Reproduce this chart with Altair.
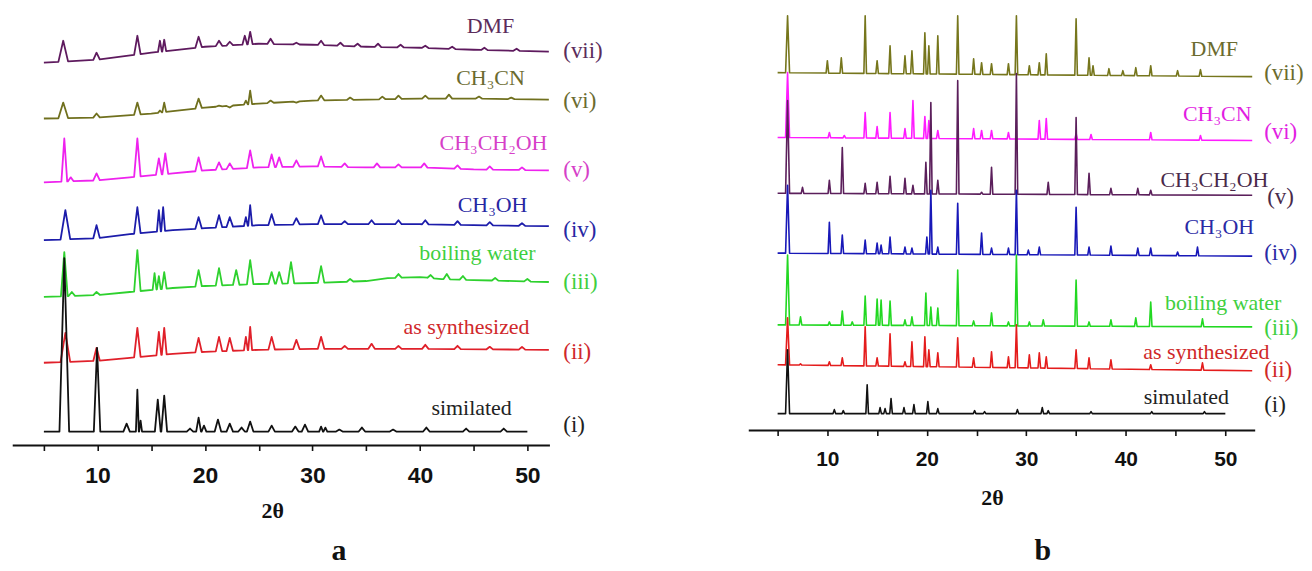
import altair as alt
import numpy as np
import pandas as pd

# ---------------- Panel a data (intensity in a.u., stacked) ----------------
A_NAMES = ["DMF", "CH3CN", "CH3CH2OH", "CH3OH", "boiling water", "as synthesized", "simulated"]
A_COLORS = ["#5e1a5e", "#70701e", "#ee22ee", "#1c1caa", "#2ed12e", "#e0202a", "#111111"]

A_BASE_T = {
    "DMF": [5, 10, 15, 20, 25, 30, 35, 40, 45, 52],
    "CH3CN": [5, 10, 15, 20, 25, 30, 35, 40, 45, 52],
    "CH3CH2OH": [5, 10, 13, 17, 20, 25, 30, 35, 40, 45, 52],
    "CH3OH": [5, 10, 13, 17, 20, 25, 30, 35, 40, 45, 52],
    "boiling water": [5, 10, 13, 17, 20, 25, 30, 35, 37, 40, 42, 45, 52],
    "as synthesized": [5, 10, 13, 17, 20, 25, 30, 40, 52],
    "simulated": [5, 50],
}
A_BASE_Y = {
    "DMF": [384, 387, 394, 400, 403, 402, 400, 399, 397, 395],
    "CH3CN": [328, 329, 333, 339, 343, 346, 347, 348, 348, 347],
    "CH3CH2OH": [264, 266, 269, 273, 276, 279, 280, 279, 279, 277, 276],
    "CH3OH": [206, 208, 212, 216, 218, 221, 222, 222, 222, 221, 220],
    "boiling water": [149, 151, 154, 158, 160, 162, 163, 165, 168, 169, 167, 166, 164],
    "as synthesized": [83, 85, 88, 92, 94, 96, 97, 97, 96],
    "simulated": [14, 14],
}
A_PEAK_T = {
    "DMF": [6.8, 9.9, 13.7, 15.8, 16.2, 19.4, 21.3, 22.3, 23.7, 24.2, 26.1, 28.5, 30.8, 32.6, 34.2, 36.1, 38.2, 40.5, 43.0, 46.0, 49.0],
    "CH3CN": [6.8, 9.9, 13.7, 15.8, 16.2, 19.4, 21.3, 22.3, 23.8, 24.2, 26.1, 28.5, 30.8, 33.5, 36.5, 38.0, 40.5, 42.7, 45.5, 48.5],
    "CH3CH2OH": [6.9, 7.5, 9.9, 13.7, 15.7, 16.3, 19.4, 21.3, 22.3, 24.2, 26.2, 26.9, 28.5, 30.8, 33.0, 36.0, 38.0, 40.4, 43.5, 46.5, 49.5],
    "CH3OH": [7.0, 9.9, 13.7, 15.7, 16.1, 19.4, 21.3, 22.3, 23.8, 24.2, 26.2, 28.5, 30.8, 33.0, 35.5, 38.0, 40.5, 43.5, 46.5, 49.5],
    "boiling water": [6.9, 7.6, 9.9, 13.7, 15.3, 15.7, 16.2, 19.4, 21.3, 22.9, 24.2, 26.2, 26.9, 28.0, 30.8, 33.5, 38.0, 41.0, 42.5, 44.0, 47.0, 50.0],
    "as synthesized": [7.0, 9.9, 13.7, 15.7, 16.2, 19.4, 21.3, 22.3, 23.8, 24.2, 26.2, 28.5, 30.8, 33.0, 35.5, 38.0, 40.5, 43.5, 46.5, 49.5],
    "simulated": [6.9, 9.95, 12.7, 13.7, 14.0, 15.6, 16.2, 18.6, 19.4, 19.9, 21.2, 22.3, 23.4, 24.2, 26.2, 28.4, 29.3, 30.8, 31.2, 32.5, 34.6, 37.5, 40.6, 44.3, 47.8],
}
A_PEAK_Y = {
    "DMF": [406, 394, 411, 406, 407, 410, 406, 405, 411, 415, 408, 404, 406, 404, 403, 403, 402, 401, 400, 399, 398],
    "CH3CN": [344, 333, 344, 336, 344, 348, 341, 339, 346, 356, 346, 344, 351, 349, 350, 351, 351, 352, 350, 349],
    "CH3CH2OH": [308, 269, 273, 308, 288, 293, 289, 284, 283, 296, 292, 289, 286, 290, 283, 283, 282, 283, 281, 280, 279],
    "CH3OH": [236, 221, 239, 236, 239, 229, 231, 229, 229, 241, 232, 228, 231, 225, 226, 226, 226, 225, 224, 223],
    "boiling water": [194, 154, 154, 196, 173, 170, 174, 176, 178, 176, 186, 174, 174, 184, 180, 167, 172, 171, 172, 170, 168, 167],
    "as synthesized": [113, 98, 118, 114, 118, 108, 109, 108, 109, 119, 109, 106, 109, 100, 102, 100, 101, 100, 99, 99],
    "simulated": [188, 98, 22, 56, 25, 46, 50, 17, 28, 20, 26, 22, 18, 24, 20, 19, 21, 19, 18, 16, 18, 16, 18, 17, 17],
}
A_END = {"DMF": 52.0, "CH3CN": 52.0, "CH3CH2OH": 52.0, "CH3OH": 52.0,
         "boiling water": 52.0, "as synthesized": 52.0, "simulated": 50.0}

# ---------------- Panel b data ----------------
B_NAMES = ["DMF", "CH3CN", "CH3CH2OH", "CH3OH", "boiling water", "as synthesized", "simulated"]
B_COLORS = ["#76761c", "#ff1cff", "#5b1f5b", "#1818b8", "#22d822", "#e41c1c", "#111111"]

B_BASE_T = {n: [5, 52.7] for n in B_NAMES}
B_BASE_T["simulated"] = [5, 50]
B_BASE_Y = {
    "DMF": [359, 355],
    "CH3CN": [294, 291],
    "CH3CH2OH": [238, 236],
    "CH3OH": [178, 175],
    "boiling water": [106, 104],
    "as synthesized": [66, 60],
    "simulated": [17, 17],
}
B_PEAK_T = {
    "DMF": [6.0, 10.0, 11.4, 13.8, 15.0, 16.3, 17.8, 18.5, 19.8, 20.2, 21.1, 23.1, 24.7, 25.5, 26.5, 28.2, 29.0, 30.3, 31.3, 32.0, 35.0, 36.3, 36.7, 38.3, 39.7, 41.0, 42.5, 45.2, 47.5],
    "CH3CN": [6.0, 10.2, 11.7, 13.8, 15.0, 16.3, 17.8, 18.6, 19.8, 20.2, 21.1, 24.7, 25.5, 26.5, 28.2, 31.3, 32.0, 35.0, 36.5, 42.5, 47.5],
    "CH3CH2OH": [6.0, 7.5, 10.2, 11.5, 13.8, 15.0, 16.3, 17.8, 18.6, 19.9, 20.4, 21.1, 23.1, 25.5, 26.5, 29.0, 32.2, 35.0, 36.3, 38.5, 41.2, 42.5],
    "CH3OH": [6.0, 10.2, 11.5, 13.8, 15.0, 15.4, 16.3, 17.8, 18.5, 20.0, 20.4, 21.1, 23.1, 25.5, 26.5, 28.2, 29.0, 30.2, 31.3, 35.0, 36.3, 38.5, 41.2, 42.5, 45.2, 47.2],
    "boiling water": [6.0, 7.3, 10.2, 11.5, 12.5, 13.8, 15.0, 15.4, 16.3, 17.8, 18.5, 19.9, 20.4, 21.1, 23.1, 24.7, 26.5, 28.2, 29.0, 30.3, 31.7, 35.0, 36.3, 38.5, 41.0, 42.5, 47.7],
    "as synthesized": [6.0, 7.3, 10.2, 11.5, 13.8, 15.0, 16.3, 17.8, 18.5, 19.8, 20.2, 21.1, 23.1, 24.7, 26.5, 28.2, 29.0, 30.3, 31.3, 32.0, 35.0, 36.3, 38.5, 42.5, 47.7],
    "simulated": [6.0, 10.7, 11.6, 14.0, 15.3, 15.8, 16.4, 17.7, 18.7, 20.1, 21.1, 24.8, 25.8, 29.1, 31.6, 32.2, 36.5, 42.6, 47.9],
}
B_PEAK_Y = {
    "DMF": [416, 371, 374, 416, 371, 386, 376, 381, 399, 386, 396, 416, 373, 369, 368, 368, 416, 366, 369, 378, 413, 374, 366, 363, 361, 364, 366, 361, 362],
    "CH3CN": [359, 299, 296, 319, 305, 319, 303, 331, 315, 311, 301, 303, 301, 301, 299, 311, 313, 298, 297, 299, 296],
    "CH3CH2OH": [331, 244, 251, 284, 248, 249, 255, 253, 246, 269, 329, 251, 351, 239, 264, 358, 249, 314, 258, 243, 243, 241],
    "CH3OH": [246, 209, 196, 191, 188, 186, 194, 184, 183, 194, 241, 184, 228, 198, 183, 183, 241, 181, 184, 224, 184, 185, 183, 183, 179, 184],
    "boiling water": [176, 114, 109, 120, 109, 135, 132, 131, 130, 111, 114, 138, 124, 123, 161, 110, 118, 109, 176, 109, 111, 151, 109, 111, 113, 129, 112],
    "as synthesized": [113, 67, 69, 73, 104, 73, 97, 69, 89, 94, 81, 78, 93, 73, 79, 74, 106, 76, 78, 74, 81, 73, 71, 66, 68],
    "simulated": [81, 21, 20, 46, 23, 22, 32, 23, 26, 29, 22, 20, 19, 21, 23, 20, 19, 19, 19],
}
B_END = {n: 52.7 for n in B_NAMES}
B_END["simulated"] = 50.0

# labels (text, position in data units, colour)
A_LABELS = ["DMF", "CH\u2083CN", "CH\u2083CH\u2082OH", "CH\u2083OH", "boiling water", "as synthesized", "similated"]
A_LABEL_T = [46.57, 46.57, 46.85, 46.76, 45.36, 44.34, 44.81]
A_LABEL_Y = [421, 369, 303, 241, 193, 119, 38]
A_LABEL_C = ["#5b2c5b", "#6b6b30", "#d63fc8", "#2727a3", "#3fcf3f", "#d0282c", "#222222"]
A_ROMAN = ["(vii)", "(vi)", "(v)", "(iv)", "(iii)", "(ii)", "(i)"]
A_ROMAN_T = [53.34] * 7
A_ROMAN_Y = [396, 346, 276, 216, 164, 94, 21]

B_LABELS = ["DMF", "CH\u2083CN", "CH\u2083CH\u2082OH", "CH\u2083OH", "boiling water", "as synthesized", "simulated"]
B_LABEL_T = [48.89, 49.19, 48.9, 49.39, 49.79, 48.09, 46.08]
B_LABEL_Y = [383, 318, 251, 204, 128, 79, 34]
B_LABEL_C = ["#6b6b2e", "#e21ee2", "#4a2a4a", "#2a2aa5", "#3fcf3f", "#d02828", "#222222"]
B_ROMAN = ["(vii)", "(vi)", "(v)", "(iv)", "(iii)", "(ii)", "(i)"]
B_ROMAN_T = [53.9, 53.9, 54.2, 53.9, 53.9, 53.9, 53.9]
B_ROMAN_Y = [359, 299, 234, 178, 103, 61, 26]

TICKS = [5, 10, 15, 20, 25, 30, 35, 40, 45, 50]
A_AXIS_T = [2.1, 52.1]
B_AXIS_T = [2.1, 53.0]


def build_trace(bt, by, pt, py, hw, first_w, t_end):
    pk = sorted(zip(pt, py))
    ts = [p for p, _ in pk]
    pts = []
    spans = []
    for i, (p, top) in enumerate(pk):
        w = first_w if i == 0 else hw
        if i > 0:
            w = min(w, (p - ts[i - 1]) * 0.45)
        if i < len(pk) - 1:
            w = min(w, (ts[i + 1] - p) * 0.45)
        spans.append((p - w, p + w))
        pts.append((p - w, float(np.interp(p - w, bt, by))))
        pts.append((p, float(top)))
        pts.append((p + w, float(np.interp(p + w, bt, by))))
    for t, y in zip(bt, by):
        if t <= t_end and not any(a <= t <= b for a, b in spans):
            pts.append((float(t), float(y)))
    if not any(a <= t_end <= b for a, b in spans):
        pts.append((t_end, float(np.interp(t_end, bt, by))))
    pts.sort()
    return pts


def panel_frame(names, bt, by, pt, py, ends, hw, first_w, prefix):
    rows = []
    for n in names:
        for k, (t, y) in enumerate(build_trace(bt[n], by[n], pt[n], py[n], hw, first_w, ends[n])):
            rows.append({"trace": prefix + n, "t": t, "y": y, "seq": k})
    return pd.DataFrame(rows)


def make_panel(df, names, colors, xdom, ydom, height, width, axis_t, labels, lt, ly, lc,
               roman, rt, ry, letter, letter_t, letter_y, title_x, title_y, label_size, pad, sw):
    X = alt.X("t:Q", scale=alt.Scale(domain=xdom, nice=False, zero=False),
              axis=alt.Axis(values=TICKS, domain=False, grid=False, tickSize=5, tickWidth=1.6,
                            tickColor="#111", labelExpr="datum.value % 10 == 0 ? datum.label : ''",
                            labelFont="Liberation Sans", labelFontWeight="bold",
                            labelFontSize=label_size, labelColor="#111", labelPadding=pad,
                            title="2\u03b8", titleFont="Liberation Serif", titleFontWeight="bold",
                            titleFontSize=22, titleColor="#111", titleX=title_x, titleY=title_y,
                            titleBaseline="middle", titleAlign="center"))
    Y = alt.Y("y:Q", scale=alt.Scale(domain=ydom, nice=False, zero=False), axis=None)

    lines = alt.Chart(df).mark_line(strokeWidth=sw, strokeJoin="round").encode(
        x=X, y=Y,
        color=alt.Color("trace:N", scale=alt.Scale(domain=names, range=colors), legend=None),
        order="seq:Q")

    ax = pd.DataFrame({"t": [axis_t[0]], "t2": [axis_t[1]], "y": [0]})
    axis_line = alt.Chart(ax).mark_rule(strokeWidth=2, color="#111").encode(x=X, x2="t2:Q", y=Y)

    ldf = pd.DataFrame({"t": lt, "y": ly, "label": labels, "c": lc})
    name_txt = alt.Chart(ldf).mark_text(font="Liberation Serif", fontSize=22, align="center",
                                        baseline="middle").encode(
        x=X, y=Y, text="label:N", color=alt.Color("c:N", scale=None))

    rdf = pd.DataFrame({"t": rt, "y": ry, "label": roman, "c": lc})
    roman_txt = alt.Chart(rdf).mark_text(font="Liberation Serif", fontSize=23, align="left",
                                         baseline="middle").encode(
        x=X, y=Y, text="label:N", color=alt.Color("c:N", scale=None))

    lt_df = pd.DataFrame({"t": [letter_t], "y": [letter_y], "label": [letter]})
    letter_txt = alt.Chart(lt_df).mark_text(font="Liberation Serif", fontSize=30, fontWeight="bold",
                                            align="center", baseline="middle", color="#111").encode(
        x=X, y=Y, text="label:N")

    return alt.layer(lines, axis_line, name_txt, roman_txt, letter_txt).properties(
        width=width, height=height)


dfa = panel_frame(A_NAMES, A_BASE_T, A_BASE_Y, A_PEAK_T, A_PEAK_Y, A_END, 0.3, 0.45, "a:")
dfb = panel_frame(B_NAMES, B_BASE_T, B_BASE_Y, B_PEAK_T, B_PEAK_Y, B_END, 0.13, 0.2, "b:")

pa = make_panel(dfa, ["a:" + n for n in A_NAMES], A_COLORS, [1.66, 61.045], [0, 438], 438, 640,
                A_AXIS_T, A_LABELS, A_LABEL_T, A_LABEL_Y, A_LABEL_C, A_ROMAN, A_ROMAN_T, A_ROMAN_Y,
                "a", 32.47, -106, 265, 65, 23, 14, 1.8)
pb = make_panel(dfb, ["b:" + n for n in B_NAMES], B_COLORS, [-3.016, 57.505], [0, 423], 423, 604,
                B_AXIS_T, B_LABELS, B_LABEL_T, B_LABEL_Y, B_LABEL_C, B_ROMAN, B_ROMAN_T, B_ROMAN_Y,
                "b", 31.65, -121, 295, 67, 21, 13, 1.6)

chart = alt.hconcat(pa, pb, spacing=52).resolve_scale(color="independent").properties(
    padding=0, background="white").configure_view(stroke=None)

chart.save("out.html", embed_options={"renderer": "svg", "actions": False})
